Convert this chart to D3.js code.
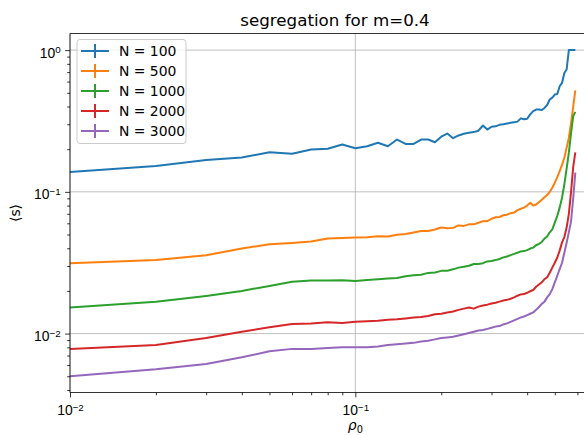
<!DOCTYPE html>
<html>
<head>
<meta charset="utf-8">
<script src="https://cdn.jsdelivr.net/npm/d3@7"></script>
<style>
  body { margin: 0; background: #fff; }
  svg { font-family: "DejaVu Sans", sans-serif; }
</style>
</head>
<body>
<svg id="chart" width="584" height="435"></svg>
<script>
// density values on the x axis
const rho0 = [0.01, 0.02, 0.03, 0.04, 0.05, 0.06, 0.07, 0.08, 0.09, 0.10,
  0.11, 0.12, 0.13, 0.14, 0.15, 0.16, 0.17, 0.18, 0.19, 0.20,
  0.21, 0.22, 0.23, 0.24, 0.25, 0.26, 0.27, 0.28, 0.29, 0.30,
  0.31, 0.32, 0.33, 0.34, 0.35, 0.36, 0.37, 0.38, 0.39, 0.40,
  0.41, 0.42, 0.43, 0.44, 0.45, 0.46, 0.47, 0.48, 0.49, 0.50,
  0.51, 0.52, 0.53, 0.54, 0.55, 0.56, 0.57, 0.58, 0.59];

const sizes = ["N = 100", "N = 500", "N = 1000", "N = 2000", "N = 3000"];

const sN100 = [0.138, 0.152, 0.1675, 0.175, 0.19, 0.186, 0.199, 0.2015, 0.216, 0.203,
  0.210, 0.222, 0.210, 0.234, 0.218, 0.218, 0.234, 0.234, 0.224, 0.245,
  0.258, 0.239, 0.250, 0.257, 0.261, 0.264, 0.270, 0.294, 0.275, 0.288,
  0.290, 0.297, 0.300, 0.304, 0.307, 0.310, 0.313, 0.330, 0.325, 0.328,
  0.352, 0.371, 0.381, 0.381, 0.378, 0.391, 0.41, 0.448, 0.462, 0.486,
  0.49, 0.556, 0.587, 0.69, 0.73, 1.0, 1.0, 1.0, 1.0];

const sN500 = [0.0314, 0.0330, 0.0357, 0.0398, 0.0427, 0.0436, 0.0446, 0.0468, 0.0473, 0.0476,
  0.0478, 0.0487, 0.0485, 0.0499, 0.0505, 0.0517, 0.0530, 0.0530, 0.0542, 0.0561,
  0.0553, 0.0557, 0.0580, 0.0575, 0.0590, 0.0590, 0.0606, 0.0620, 0.0622, 0.0646,
  0.0662, 0.0665, 0.0684, 0.0690, 0.0707, 0.0714, 0.0743, 0.0760, 0.0774, 0.0800,
  0.0838, 0.0800, 0.0815, 0.0846, 0.0880, 0.0915, 0.0950, 0.100, 0.107, 0.116,
  0.127, 0.140, 0.155, 0.174, 0.205, 0.241, 0.307, 0.400, 0.519];

const sN1000 = [0.0153, 0.01675, 0.01845, 0.0200, 0.0217, 0.0232, 0.0237, 0.0237, 0.0238, 0.0235,
  0.0239, 0.0242, 0.0245, 0.0247, 0.0254, 0.0258, 0.0260, 0.0268, 0.0270, 0.0277,
  0.0278, 0.0284, 0.0292, 0.0296, 0.0301, 0.0310, 0.0310, 0.0314, 0.0323, 0.0325,
  0.0330, 0.0336, 0.0345, 0.0350, 0.0358, 0.0365, 0.0372, 0.0380, 0.0382, 0.0388,
  0.0398, 0.0404, 0.0420, 0.0430, 0.0443, 0.0468, 0.0484, 0.0518, 0.0544, 0.0607,
  0.0677, 0.0774, 0.0908, 0.113, 0.146, 0.189, 0.26, 0.342, 0.367];

const sN2000 = [0.0078, 0.0083, 0.0093, 0.0103, 0.0111, 0.0117, 0.0118, 0.0120, 0.0119, 0.0121,
  0.0122, 0.0123, 0.0125, 0.0126, 0.0128, 0.0130, 0.0131, 0.0133, 0.0137, 0.0138,
  0.0141, 0.0143, 0.0147, 0.0150, 0.0153, 0.0150, 0.0155, 0.0158, 0.0160, 0.0163,
  0.0165, 0.0168, 0.0171, 0.0173, 0.0176, 0.0180, 0.0185, 0.0189, 0.0190, 0.0194,
  0.0199, 0.0203, 0.0214, 0.0222, 0.0230, 0.0242, 0.0250, 0.0269, 0.0292, 0.0316,
  0.0344, 0.0385, 0.0440, 0.0480, 0.056, 0.070, 0.100, 0.150, 0.190];

const sN3000 = [0.0050, 0.0056, 0.0061, 0.0068, 0.0075, 0.0078, 0.0078, 0.0079, 0.0080, 0.0080,
  0.0080, 0.0081, 0.0083, 0.0084, 0.0085, 0.0086, 0.0088, 0.0089, 0.0091, 0.0093,
  0.0094, 0.0095, 0.0097, 0.0099, 0.0101, 0.0103, 0.0105, 0.0106, 0.0108, 0.0110,
  0.0112, 0.0113, 0.0116, 0.0118, 0.0121, 0.0124, 0.0127, 0.0130, 0.0132, 0.0135,
  0.0138, 0.0141, 0.0147, 0.0154, 0.0162, 0.0168, 0.0180, 0.0190, 0.0206, 0.0230,
  0.0256, 0.0285, 0.0316, 0.0372, 0.0438, 0.0520, 0.0620, 0.0900, 0.137];

const xMajor = [0.01, 0.1];
const xMinor = [0.02, 0.03, 0.04, 0.05, 0.06, 0.07, 0.08, 0.09, 0.2, 0.3, 0.4, 0.5, 0.6, 0.7];
const yMajor = [0.01, 0.1, 1];
const yMinor = [0.004, 0.005, 0.006, 0.007, 0.008, 0.009,
  0.02, 0.03, 0.04, 0.05, 0.06, 0.07, 0.08, 0.09,
  0.2, 0.3, 0.4, 0.5, 0.6, 0.7, 0.8, 0.9];
const tickExp = { 0.01: "\u22122", 0.1: "\u22121", 1: "0" };

const colors = ["#1f77b4", "#ff7f0e", "#2ca02c", "#d62728", "#9467bd"];
const series = [sN100, sN500, sN1000, sN2000, sN3000];

const svg = d3.select("#chart");
const pLeft = 70, pRight = 600, pTop = 33.5, pBottom = 392.5;

const x = d3.scaleLog().domain([0.01, 0.72]).range([pLeft, pRight]);
const y = d3.scaleLog().domain([0.00384, 1.31]).range([pBottom, pTop]);

// clip to the axes area
svg.append("clipPath").attr("id", "plotclip")
  .append("rect").attr("x", pLeft).attr("y", pTop)
  .attr("width", pRight - pLeft).attr("height", pBottom - pTop);

// grid on major ticks
const grid = svg.append("g").attr("stroke", "#b0b0b0").attr("stroke-width", 0.8);
xMajor.forEach((v) => {
  grid.append("line").attr("x1", x(v)).attr("x2", x(v)).attr("y1", pTop).attr("y2", pBottom);
});
yMajor.forEach((v) => {
  grid.append("line").attr("x1", pLeft).attr("x2", pRight).attr("y1", y(v)).attr("y2", y(v));
});

// series lines
const line = d3.line()
  .x((d, i) => x(rho0[i]))
  .y((d) => y(d));

const plot = svg.append("g").attr("clip-path", "url(#plotclip)");
series.forEach((s, k) => {
  plot.append("path")
    .datum(s)
    .attr("fill", "none")
    .attr("stroke", colors[k])
    .attr("stroke-width", 2)
    .attr("stroke-linejoin", "round")
    .attr("d", line);
});

function supLabels(g) {
  g.selectAll(".tick text").each(function (d) {
    const t = d3.select(this);
    t.text(null);
    t.append("tspan").text("10");
    t.append("tspan").attr("dy", "-0.45em").attr("font-size", "9.8px").text(tickExp[d]);
  });
}

// axes
const gx = svg.append("g").attr("transform", `translate(0,${pBottom})`);
gx.call(d3.axisBottom(x).tickValues(xMinor).tickSize(2.8).tickFormat(""));
const gxM = svg.append("g").attr("transform", `translate(0,${pBottom})`);
gxM.call(d3.axisBottom(x).tickValues(xMajor).tickSize(4.9).tickPadding(4.5).tickFormat(String));
gxM.selectAll(".tick text").attr("font-size", "13.9px").attr("fill", "#000").attr("dy", "0.95em");
supLabels(gxM);

const gy = svg.append("g").attr("transform", `translate(${pLeft},0)`);
gy.call(d3.axisLeft(y).tickValues(yMinor.filter((v) => y(v) <= pBottom)).tickSize(2.8).tickFormat(""));
const gyM = svg.append("g").attr("transform", `translate(${pLeft},0)`);
gyM.call(d3.axisLeft(y).tickValues(yMajor).tickSize(4.9).tickPadding(4.5).tickFormat(String));
gyM.selectAll(".tick text").attr("font-size", "13.9px").attr("fill", "#000").attr("dy", "0.5em");
supLabels(gyM);

[gx, gxM, gy, gyM].forEach((g) => {
  g.selectAll(".domain").remove();
  g.selectAll(".tick line").attr("stroke", "#000").attr("stroke-width", 0.8);
});

// spines
const spines = svg.append("g").attr("stroke", "#000").attr("stroke-width", 0.8);
spines.append("line").attr("x1", pLeft).attr("x2", pLeft).attr("y1", pTop).attr("y2", pBottom);
spines.append("line").attr("x1", pLeft).attr("x2", pRight).attr("y1", pBottom).attr("y2", pBottom);
spines.append("line").attr("x1", pLeft).attr("x2", pRight).attr("y1", pTop).attr("y2", pTop);
spines.append("line").attr("x1", pRight).attr("x2", pRight).attr("y1", pTop).attr("y2", pBottom);

// title and axis labels
svg.append("text")
  .attr("x", (pLeft + pRight) / 2).attr("y", 26)
  .attr("text-anchor", "middle").attr("font-size", "16.7px")
  .text("segregation for m=0.4");

const xl = svg.append("text")
  .attr("x", x(0.1)).attr("y", 430)
  .attr("text-anchor", "middle").attr("font-size", "13.9px").attr("font-style", "italic");
xl.append("tspan").text("\u03c1");
xl.append("tspan").attr("dy", "0.3em").attr("font-size", "9.8px").attr("font-style", "normal").text("0");

svg.append("text")
  .attr("transform", `translate(20,${(pTop + pBottom) / 2}) rotate(-90)`)
  .attr("text-anchor", "middle").attr("font-size", "13.9px")
  .text("\u27e8s\u27e9");

// legend
const legend = svg.append("g");
legend.append("rect")
  .attr("x", 77).attr("y", 39.5).attr("width", 109).attr("height", 104)
  .attr("rx", 3).attr("fill", "#fff").attr("fill-opacity", 0.8)
  .attr("stroke", "#cccccc").attr("stroke-width", 1);

sizes.forEach((label, k) => {
  const ly = 51 + k * 20;
  const item = legend.append("g").attr("stroke", colors[k]).attr("stroke-width", 2);
  item.append("line").attr("x1", 81).attr("x2", 109).attr("y1", ly).attr("y2", ly);
  item.append("line").attr("x1", 95).attr("x2", 95).attr("y1", ly - 7).attr("y2", ly + 7);
  legend.append("text")
    .attr("x", 119).attr("y", ly + 5)
    .attr("font-size", "13.9px").attr("fill", "#000")
    .text(label);
});
</script>
</body>
</html>
